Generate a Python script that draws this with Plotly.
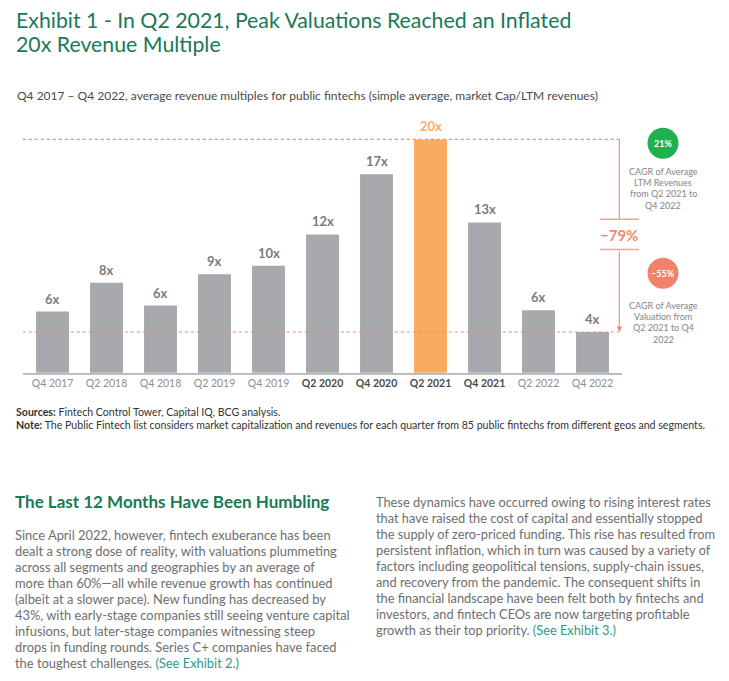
import plotly.graph_objects as go

# ---------------- data ----------------
categories = ["Q4 2017", "Q2 2018", "Q4 2018", "Q2 2019", "Q4 2019", "Q2 2020",
              "Q4 2020", "Q2 2021", "Q4 2021", "Q2 2022", "Q4 2022"]
multiples = [5.7, 8.1, 6.2, 8.8, 9.5, 12.1, 17.1, 20.0, 13.1, 5.8, 4.0]
value_labels = ["6x", "8x", "6x", "9x", "10x", "12x", "17x", "20x", "13x", "6x", "4x"]
bold_ticks = [False, False, False, False, False, True, True, True, True, False, False]
peak_label = "Q2 2021"
trough_label = "Q4 2022"
revenue_cagr = "21%"
valuation_cagr = "\u221255%"
valuation_change = "\u221279%"

# page body has an 8px margin; figure is sized to fit inside the window
OFF = 8
W, H = 713, 665
GREEN = "#197A56"
GRAY_BAR = "#A8A9AD"
ORANGE = "#FBAB60"
SALMON = "#F4886C"
FONT = "Lato"


def px(x):
    return (x - OFF) / W


def py(y):
    return 1 - (y - OFF) / H


peak_val = multiples[categories.index(peak_label)]
trough_val = multiples[categories.index(trough_label)]

bar_colors = [ORANGE if c == peak_label else GRAY_BAR for c in categories]

fig = go.Figure()
fig.add_trace(go.Bar(
    x=categories, y=multiples, marker=dict(color=bar_colors, line=dict(width=0)),
    width=0.61, hoverinfo="skip", showlegend=False,
))

annotations = []


def note(x, y, text, size, color, xanchor="center", yanchor="middle"):
    annotations.append(dict(x=x, y=y, xref="paper", yref="paper", text=text,
                            showarrow=False, xanchor=xanchor, yanchor=yanchor,
                            font=dict(family=FONT, size=size, color=color)))


# value labels above bars
for c, v, lab in zip(categories, multiples, value_labels):
    col = ORANGE if c == peak_label else "#7B7B7D"
    annotations.append(dict(x=c, y=v, xref="x", yref="y", text=f"<b>{lab}</b>",
                            showarrow=False, xanchor="center", yanchor="bottom", yshift=3,
                            font=dict(family=FONT, size=13, color=col)))

ticktext = []
for c, b in zip(categories, bold_ticks):
    if b:
        ticktext.append(f"<b><span style='color:#4A4A4A'>{c}</span></b>")
    else:
        ticktext.append(f"<span style='color:#8E8E90'>{c}</span>")

shapes = []
# dashed reference lines at peak and trough
for val in (peak_val, trough_val):
    shapes.append(dict(type="line", xref="x", yref="y", x0=-0.55, x1=10.5, y0=val, y1=val,
                       line=dict(color=SALMON, width=1.2, dash="3px,3px"), layer="above"))
# vertical connector (upper part)
shapes.append(dict(type="line", xref="paper", yref="y", x0=px(619.3), x1=px(619.3),
                   y0=peak_val, y1=13.35, line=dict(color=SALMON, width=1.1)))
# label box lines
for yy in (219.3, 249.5):
    shapes.append(dict(type="line", xref="paper", yref="paper", x0=px(600), x1=px(639),
                       y0=py(yy), y1=py(yy), line=dict(color="#F6A48F", width=1.5)))
# circles
for cy, col in ((143.3, "#1FB14E"), (273.3, "#F2836B")):
    shapes.append(dict(type="circle", xref="paper", yref="paper",
                       x0=px(663 - 15.5), x1=px(663 + 15.5), y0=py(cy + 15.5), y1=py(cy - 15.5),
                       fillcolor=col, line=dict(width=0)))

# arrow (lower part)
annotations.append(dict(x=px(619.3), y=trough_val, xref="paper", yref="y", ax=0, ay=-82,
                        axref="pixel", ayref="pixel", text="", showarrow=True,
                        arrowhead=2, arrowsize=1, arrowwidth=1.1, arrowcolor=SALMON))
note(px(619.3), py(235), f"<b>{valuation_change}</b>", 15, SALMON)
note(px(663), py(143.3), f"<b>{revenue_cagr}</b>", 9, "white")
note(px(663), py(273.3), f"<b>{valuation_cagr}</b>", 9, "white")

side1 = ["CAGR of Average", "LTM Revenues", "from Q2 2021 to", "Q4 2022"]
side2 = ["CAGR of Average", "Valuation from", "Q2 2021 to Q4", "2022"]
for i, t in enumerate(side1):
    note(px(663), py(171 + 11.5 * i), t, 9, "#858587")
for i, t in enumerate(side2):
    note(px(663), py(305 + 11.4 * i), t, 9, "#858587")

# titles and notes
note(px(14), py(19.5), "Exhibit 1 - In Q2 2021, Peak Valuations Reached an Inflated", 21.3, GREEN, xanchor="left")
note(px(14), py(44), "20x Revenue Multiple", 21.3, GREEN, xanchor="left")
note(px(15), py(95), "Q4 2017 \u2013 Q4 2022, average revenue multiples for public fintechs (simple average, market Cap/LTM revenues)",
     12, "#4A4A4A", xanchor="left")
note(px(14), py(411.5), "<b>Sources:</b> Fintech Control Tower, Capital IQ, BCG analysis.", 10.6, "#333333", xanchor="left")
note(px(14), py(425), "<b>Note:</b> The Public Fintech list considers market capitalization and revenues for each quarter from 85 public fintechs from different geos and segments.",
     10.6, "#333333", xanchor="left")
note(px(13), py(501), "<b>The Last 12 Months Have Been Humbling</b>", 17, GREEN, xanchor="left")

LINK = "#2E9B8A"
left_lines = [
    "Since April 2022, however, fintech exuberance has been",
    "dealt a strong dose of reality, with valuations plummeting",
    "across all segments and geographies by an average of",
    "more than 60%\u2014all while revenue growth has continued",
    "(albeit at a slower pace). New funding has decreased by",
    "43%, with early-stage companies still seeing venture capital",
    "infusions, but later-stage companies witnessing steep",
    "drops in funding rounds. Series C+ companies have faced",
    f"the toughest challenges. <span style='color:{LINK}'>(See Exhibit 2.)</span>",
]
right_lines = [
    "These dynamics have occurred owing to rising interest rates",
    "that have raised the cost of capital and essentially stopped",
    "the supply of zero-priced funding. This rise has resulted from",
    "persistent inflation, which in turn was caused by a variety of",
    "factors including geopolitical tensions, supply-chain issues,",
    "and recovery from the pandemic. The consequent shifts in",
    "the financial landscape have been felt both by fintechs and",
    "investors, and fintech CEOs are now targeting profitable",
    f"growth as their top priority. <span style='color:{LINK}'>(See Exhibit 3.)</span>",
]
for i, t in enumerate(left_lines):
    note(px(13), py(535 + 16 * i), t, 12.9, "#6E6E70", xanchor="left")
for i, t in enumerate(right_lines):
    note(px(374), py(502 + 16 * i), t, 12.8, "#6E6E70", xanchor="left")

fig.update_layout(
    width=W, height=H, margin=dict(l=0, r=0, t=0, b=0),
    paper_bgcolor="white", plot_bgcolor="white",
    bargap=0.39,
    xaxis=dict(domain=[px(22.8), px(622.2)], range=[-0.55, 10.55], type="category",
               tickmode="array", tickvals=categories, ticktext=ticktext,
               showline=True, linecolor="#BDBDBF", linewidth=2, showgrid=False,
               zeroline=False, ticks="", tickfont=dict(family=FONT, size=10.5),
               fixedrange=True),
    yaxis=dict(domain=[py(372.7), py(115.3)], range=[0.62, 22], visible=False,
               showgrid=False, zeroline=False, fixedrange=True),
    shapes=shapes, annotations=annotations,
)

fig.write_html("out.html")
